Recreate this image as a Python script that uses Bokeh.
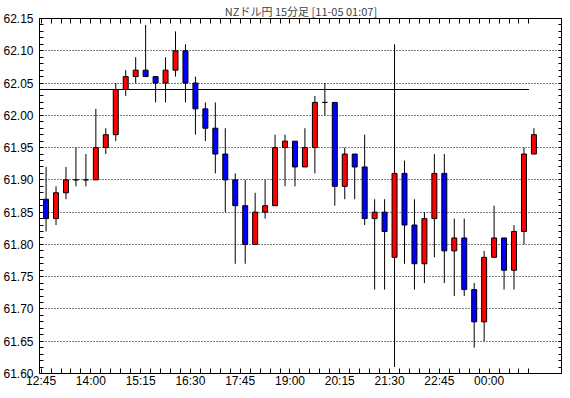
from bokeh.plotting import figure
from bokeh.models import (LinearAxis, FixedTicker, Range1d, ColumnDataSource, Grid,
                          CustomJSTickFormatter)
from bokeh.embed import file_html
from bokeh.resources import INLINE

title_text = "NZドル円 15分足 [11-05 01:07]"

opens = [61.87, 61.84, 61.88, 61.90, 61.90, 61.90, 61.95, 61.97, 62.04, 62.06,
         62.07, 62.06, 62.05, 62.07, 62.10, 62.05, 62.01, 61.98, 61.94, 61.90,
         61.86, 61.80, 61.85, 61.86, 61.95, 61.96, 61.92, 61.95, 62.02, 62.02,
         61.89, 61.94, 61.92, 61.84, 61.85, 61.78, 61.91, 61.83, 61.77, 61.84,
         61.91, 61.79, 61.81, 61.73, 61.68, 61.78, 61.81, 61.76, 61.82, 61.94]
highs = [61.92, 61.89, 61.92, 61.95, 61.94, 62.01, 61.98, 62.05, 62.07, 62.09,
         62.14, 62.06, 62.09, 62.13, 62.11, 62.06, 62.02, 62.02, 61.98, 61.91,
         61.90, 61.88, 61.90, 61.97, 61.97, 61.96, 61.98, 62.03, 62.05, 62.02,
         61.95, 61.94, 61.97, 61.87, 61.87, 62.11, 61.93, 61.87, 61.85, 61.94,
         61.94, 61.84, 61.84, 61.74, 61.79, 61.86, 61.81, 61.83, 61.95, 61.98]
lows = [61.82, 61.83, 61.87, 61.89, 61.89, 61.90, 61.94, 61.96, 62.03, 62.05,
        62.06, 62.02, 62.02, 62.06, 62.02, 61.97, 61.96, 61.91, 61.85, 61.77,
        61.77, 61.80, 61.84, 61.86, 61.89, 61.89, 61.92, 61.91, 62.00, 61.86,
        61.87, 61.87, 61.83, 61.73, 61.73, 61.61, 61.77, 61.73, 61.74, 61.78,
        61.74, 61.72, 61.72, 61.64, 61.65, 61.78, 61.73, 61.73, 61.80, 61.94]
closes = [61.84, 61.88, 61.90, 61.90, 61.90, 61.95, 61.97, 62.04, 62.06, 62.07,
          62.06, 62.05, 62.07, 62.10, 62.05, 62.01, 61.98, 61.94, 61.90, 61.86,
          61.80, 61.85, 61.86, 61.95, 61.96, 61.92, 61.95, 62.02, 62.02, 61.89,
          61.94, 61.92, 61.84, 61.85, 61.82, 61.91, 61.83, 61.77, 61.84, 61.91,
          61.79, 61.81, 61.73, 61.68, 61.78, 61.81, 61.76, 61.82, 61.94, 61.97]

time_labels = ["12:45", "14:00", "15:15", "16:30", "17:45",
               "19:00", "20:15", "21:30", "22:45", "00:00"]
y_ticks = [61.60, 61.65, 61.70, 61.75, 61.80, 61.85,
           61.90, 61.95, 62.00, 62.05, 62.10, 62.15]
label_every = 5
ref_level = 62.04

n = len(opens)
xs = list(range(n))
colors = ["#ff0000" if c > o else ("#0000ff" if c < o else "#000000")
          for o, c in zip(opens, closes)]
src = ColumnDataSource(dict(
    x=xs, open=opens, high=highs, low=lows, close=closes,
    top=[max(o, c) for o, c in zip(opens, closes)],
    bottom=[min(o, c) for o, c in zip(opens, closes)],
    color=colors))

y_fine = [round(y_ticks[0] + k * 0.01, 2)
          for k in range(int(round((y_ticks[-1] - y_ticks[0]) / 0.01)) + 1)]

x_start, x_end = -0.66, n + 1.87
p = figure(width=562, height=390, output_backend="svg", toolbar_location=None,
           x_range=Range1d(x_start, x_end), y_range=Range1d(y_ticks[0], y_ticks[-1]),
           x_axis_type=None, y_axis_type=None,
           min_border_left=34, min_border_right=0, min_border_top=12,
           min_border_bottom=13, title=title_text)
p.background_fill_color = "white"
p.border_fill_color = "white"
p.outline_line_color = "black"
p.outline_line_width = 1
p.title.text_font = "Noto Sans CJK JP"
p.title.text_font_size = "11px"
p.title.text_font_style = "normal"
p.title.align = "center"
p.title.standoff = 0
p.title.offset = 0

font = "Liberation Sans"
empty = CustomJSTickFormatter(code="return ''")


def style(ax, tick_len):
    ax.major_tick_in = tick_len
    ax.major_tick_out = 0
    ax.minor_tick_in = 0
    ax.minor_tick_out = 0
    ax.axis_line_color = "black"
    ax.major_tick_line_color = "black"
    ax.minor_tick_line_color = None
    ax.major_label_standoff = 0


# y axes (ticks every 0.01, labels every 0.05)
yfine = FixedTicker(ticks=y_fine, minor_ticks=[])
yl = LinearAxis(ticker=yfine, formatter=CustomJSTickFormatter(
    code="const v = Math.round(tick * 100); return (v % 5 === 0) ? (v / 100).toFixed(2) : '';"))
yr = LinearAxis(ticker=yfine, formatter=empty)
style(yl, 4)
style(yr, 4)
yl.major_label_text_font = font
yl.major_label_text_font_size = "12px"
yl.major_label_text_color = "black"
yl.major_label_standoff = 6
p.add_layout(yl, "left")
p.add_layout(yr, "right")

# x axes (ticks at candle boundaries, labels every 5 candles)
bounds = [i - 0.5 for i in range(n)]
xb = LinearAxis(ticker=FixedTicker(ticks=bounds, minor_ticks=[]),
                formatter=CustomJSTickFormatter(
                    args=dict(labels=time_labels, every=label_every),
                    code="const i = Math.round(tick + 0.5); return (i % every === 0 && i / every < labels.length) ? labels[i / every] : '';"))
xt = LinearAxis(ticker=FixedTicker(ticks=bounds, minor_ticks=[]), formatter=empty)
style(xb, 5)
style(xt, 5)
xb.major_label_text_font = font
xb.major_label_text_font_size = "12px"
xb.major_label_text_line_height = 1.0
xb.major_label_text_color = "black"
p.add_layout(xb, "below")
p.add_layout(xt, "above")

# dotted horizontal grid
g = Grid(dimension=1, ticker=FixedTicker(ticks=y_ticks, minor_ticks=[]),
         grid_line_color="black", grid_line_dash="1 2", grid_line_width=1)
p.add_layout(g)

# reference line
p.segment(x0=[x_start], y0=[ref_level], x1=[n - 1.5], y1=[ref_level],
          line_color="black", line_width=1)

# candles
p.segment(x0="x", y0="low", x1="x", y1="high", source=src,
          line_color="black", line_width=1)
p.vbar(x="x", width=0.5, top="top", bottom="bottom", source=src,
       fill_color="color", line_color="black", line_width=1)

open("out.html", "w").write(file_html(p, INLINE))
